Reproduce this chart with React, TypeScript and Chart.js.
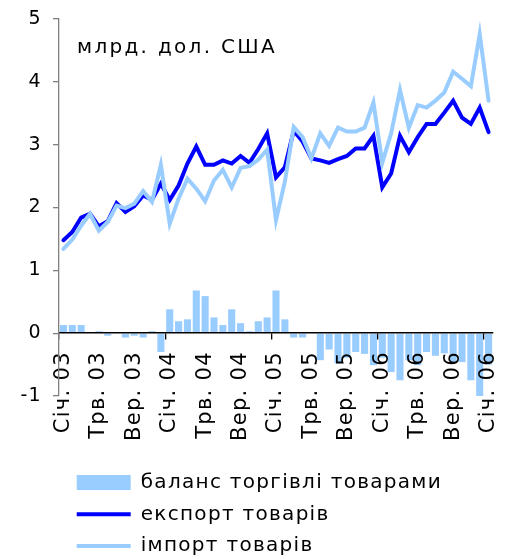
import React, { useEffect, useRef } from 'react';
import { Chart, registerables } from 'chart.js';

Chart.register(...registerables);

const FONT = "'DejaVu Sans', Verdana, sans-serif";

const categories = [
  'Січ. 03', 'Лют. 03', 'Бер. 03', 'Кві. 03', 'Трв. 03', 'Чрв. 03', 'Лип. 03', 'Сер. 03', 'Вер. 03', 'Жов. 03', 'Лис. 03', 'Гру. 03',
  'Січ. 04', 'Лют. 04', 'Бер. 04', 'Кві. 04', 'Трв. 04', 'Чрв. 04', 'Лип. 04', 'Сер. 04', 'Вер. 04', 'Жов. 04', 'Лис. 04', 'Гру. 04',
  'Січ. 05', 'Лют. 05', 'Бер. 05', 'Кві. 05', 'Трв. 05', 'Чрв. 05', 'Лип. 05', 'Сер. 05', 'Вер. 05', 'Жов. 05', 'Лис. 05', 'Гру. 05',
  'Січ. 06', 'Лют. 06', 'Бер. 06', 'Кві. 06', 'Трв. 06', 'Чрв. 06', 'Лип. 06', 'Сер. 06', 'Вер. 06', 'Жов. 06', 'Лис. 06', 'Гру. 06',
  'Січ. 07',
];

const tickLabels = [
  'Січ. 03', 'Трв. 03', 'Вер. 03', 'Січ. 04', 'Трв. 04', 'Вер. 04', 'Січ. 05',
  'Трв. 05', 'Вер. 05', 'Січ. 06', 'Трв. 06', 'Вер. 06', 'Січ. 06',
];

const balance = [
  0.13, 0.13, 0.13, 0.0, 0.03, -0.04, 0.0, -0.07, -0.04, -0.07, 0.03, -0.30,
  0.38, 0.19, 0.22, 0.68, 0.59, 0.25, 0.13, 0.38, 0.16, 0.03, 0.19, 0.25,
  0.68, 0.22, -0.07, -0.07, 0.0, -0.43, -0.26, -0.48, -0.39, -0.30, -0.33, -0.51,
  -0.39, -0.62, -0.75, -0.43, -0.51, -0.30, -0.36, -0.32, -0.47, -0.46, -0.75, -1.09,
  -0.50,
];

const exportValues = [
  1.48, 1.61, 1.84, 1.90, 1.70, 1.78, 2.07, 1.93, 2.02, 2.19, 2.12, 2.38,
  2.12, 2.35, 2.70, 2.97, 2.68, 2.68, 2.75, 2.70, 2.82, 2.71, 2.93, 3.18,
  2.48, 2.64, 3.22, 3.05, 2.78, 2.75, 2.71, 2.77, 2.82, 2.94, 2.94, 3.14,
  2.32, 2.54, 3.14, 2.88, 3.12, 3.33, 3.33, 3.51, 3.70, 3.43, 3.33, 3.59,
  3.20,
];

const importValues = [
  1.34, 1.49, 1.71, 1.90, 1.63, 1.77, 2.03, 1.99, 2.06, 2.26, 2.09, 2.68,
  1.74, 2.14, 2.46, 2.30, 2.10, 2.43, 2.60, 2.32, 2.63, 2.66, 2.76, 2.92,
  1.80, 2.41, 3.28, 3.12, 2.78, 3.18, 2.98, 3.27, 3.21, 3.21, 3.27, 3.67,
  2.71, 3.18, 3.87, 3.27, 3.63, 3.59, 3.70, 3.83, 4.16, 4.05, 3.93, 4.76,
  3.70,
];

const seriesNames = ['баланс торгівлі товарами', 'експорт товарів', 'імпорт товарів'];
const unitText = 'млрд. дол. США';

const LIGHT = '#99CCFF';
const DARK = '#0000FF';

export default function App() {
  const ref = useRef<HTMLCanvasElement>(null);

  useEffect(() => {
    if (!ref.current) return;

    const spacing = {
      id: 'spacing',
      beforeUpdate(chart: any) {
        chart.ctx.letterSpacing = '1.3px';
      },
      beforeDraw(chart: any) {
        chart.ctx.letterSpacing = '1.3px';
      },
    };

    const legendShift = {
      id: 'legendShift',
      afterLayout(chart: any) {
        if (chart.legend) chart.legend.left += 6;
      },
    };

    const unitLabel = {
      id: 'unitLabel',
      afterDraw(chart: any) {
        const ctx = chart.ctx;
        const area = chart.chartArea;
        ctx.save();
        ctx.letterSpacing = '2.3px';
        ctx.font = `20px ${FONT}`;
        ctx.fillStyle = '#000';
        ctx.textAlign = 'left';
        ctx.textBaseline = 'middle';
        ctx.fillText(unitText, area.left + 18, area.top + 29);
        ctx.restore();
      },
    };

    const chart = new Chart(ref.current, {
      type: 'bar',
      data: {
        labels: categories,
        datasets: [
          {
            type: 'bar',
            label: seriesNames[0],
            data: balance,
            backgroundColor: LIGHT,
            borderWidth: 0,
            barPercentage: 0.8,
            categoryPercentage: 1,
            pointStyle: 'rect',
            order: 3,
          },
          {
            type: 'line',
            label: seriesNames[1],
            data: exportValues,
            borderColor: DARK,
            backgroundColor: DARK,
            borderWidth: 4,
            borderCapStyle: 'round',
            pointRadius: 0,
            pointStyle: 'line',
            tension: 0,
            order: 2,
          },
          {
            type: 'line',
            label: seriesNames[2],
            data: importValues,
            borderColor: LIGHT,
            backgroundColor: LIGHT,
            borderWidth: 4,
            borderCapStyle: 'round',
            pointRadius: 0,
            pointStyle: 'line',
            tension: 0,
            order: 1,
          },
        ] as any,
      },
      options: {
        animation: false,
        responsive: true,
        maintainAspectRatio: false,
        layout: {
          autoPadding: false,
          padding: { top: 19, right: 20, bottom: 0, left: 0 },
        },
        plugins: {
          tooltip: { enabled: false },
          title: { display: false },
          legend: {
            display: true,
            position: 'bottom',
            align: 'start',
            fullSize: false,
            title: {
              display: true,
              text: '',
              padding: { top: 52.9, bottom: 0 },
              font: { size: 10, family: FONT },
            },
            labels: {
              usePointStyle: true,
              pointStyleWidth: 54,
              boxWidth: 54,
              boxHeight: 15,
              padding: 11.7,
              color: '#000',
              font: { size: 20, family: FONT },
              sort: (a: any, b: any) => a.datasetIndex - b.datasetIndex,
            },
          },
        },
        scales: {
          x: {
            type: 'category',
            position: { y: 0 } as any,
            offset: true,
            grid: {
              offset: true,
              drawOnChartArea: false,
              drawTicks: true,
              tickLength: 6,
              color: (c: any) => (typeof c.index === 'number' && c.index % 12 === 0 ? '#000' : 'rgba(0,0,0,0)'),
              lineWidth: 1.3,
              z: 1,
            },
            border: { display: true, color: '#000', width: 1.6, z: 1 },
            ticks: {
              z: 1,
              autoSkip: false,
              minRotation: 90,
              maxRotation: 90,
              padding: 12,
              color: '#000',
              font: { size: 21, family: FONT },
              callback: (_v: any, i: number) => (i % 4 === 0 ? tickLabels[i / 4] : ''),
            },
            afterFit: (s: any) => {
              s.paddingLeft = 0;
              s.paddingRight = 0;
            },
          },
          y: {
            type: 'linear',
            position: 'left',
            min: -1,
            max: 5,
            grid: {
              drawOnChartArea: false,
              drawTicks: true,
              tickLength: 6,
              color: '#808080',
              lineWidth: 1.3,
            },
            border: { display: true, color: '#808080', width: 1.3, z: 1 },
            ticks: {
              stepSize: 1,
              padding: 11,
              color: '#000',
              font: { size: 19, family: FONT },
            },
            afterFit: (s: any) => {
              s.width = 59;
              s.paddingTop = 0;
              s.paddingBottom = 0;
            },
          },
        },
      } as any,
      plugins: [spacing, legendShift, unitLabel],
    });

    return () => chart.destroy();
  }, []);

  return (
    <div style={{ position: 'fixed', left: 0, top: 0, width: 513, height: 566, background: '#fff' }}>
      <canvas ref={ref} />
    </div>
  );
}
